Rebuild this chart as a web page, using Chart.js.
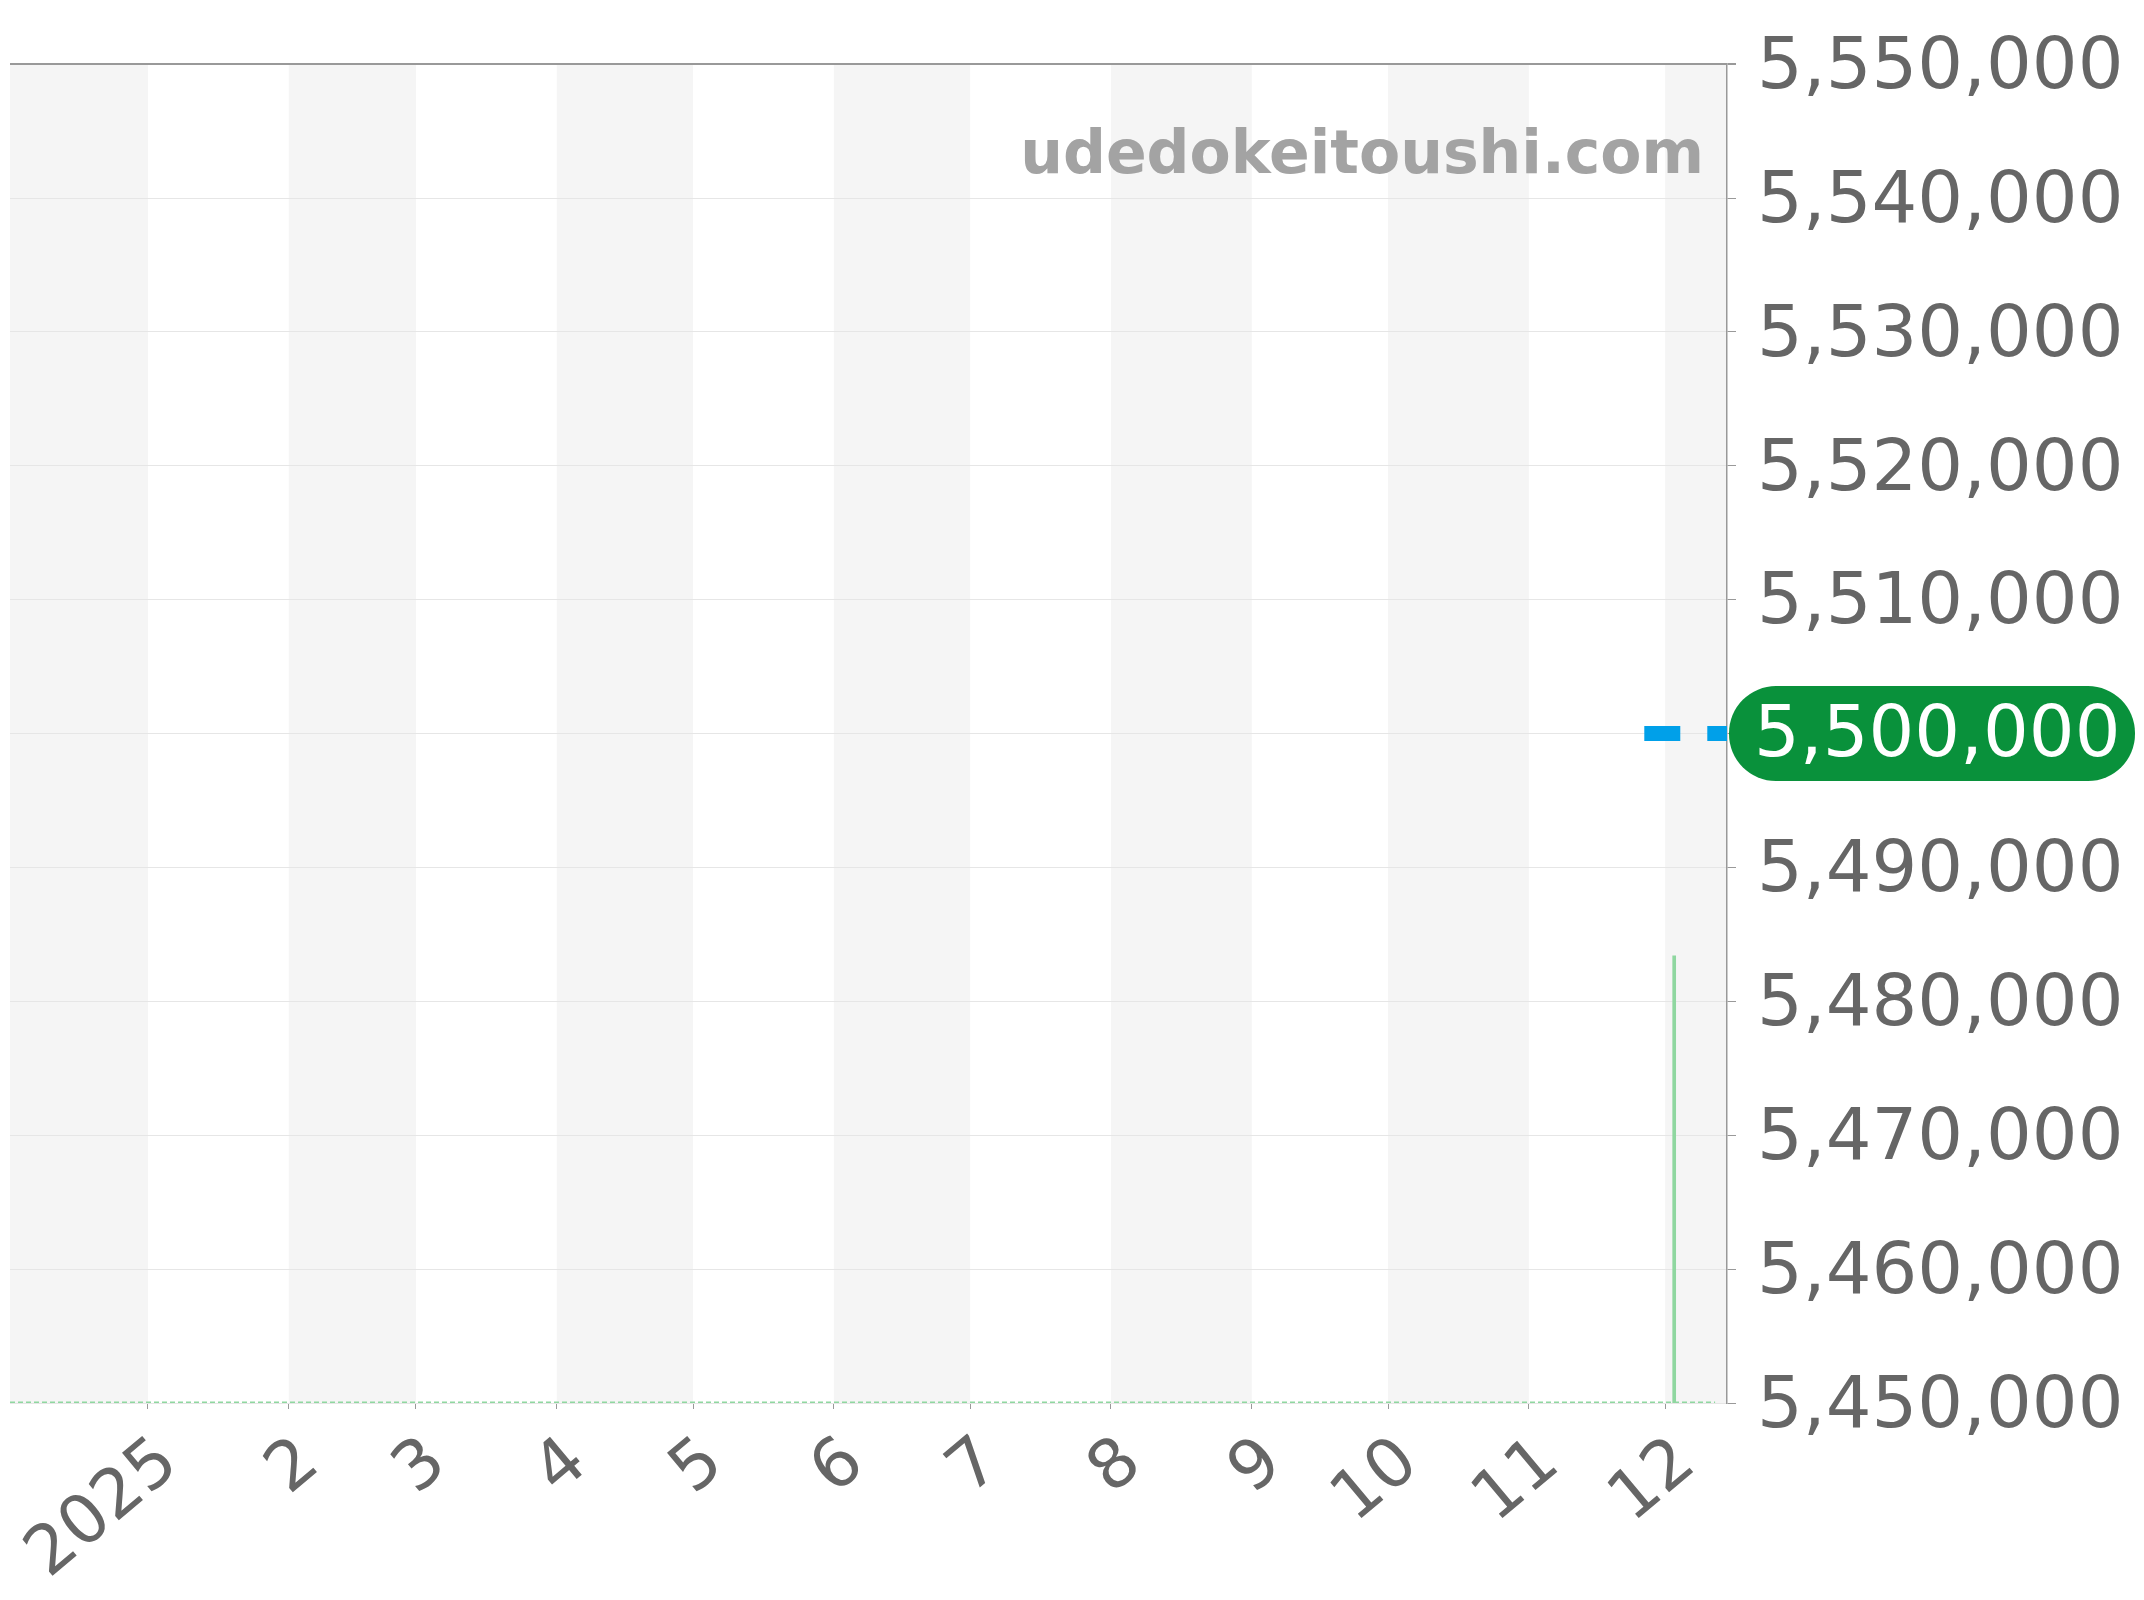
<!DOCTYPE html>
<html>
<head>
<meta charset="utf-8">
<script src="https://cdn.jsdelivr.net/npm/chart.js@4.4.1/dist/chart.umd.min.js"></script>
<style>
  html, body { margin: 0; padding: 0; background: #fff; }
  #wrap { width: 2144px; height: 1600px; position: relative; }
</style>
</head>
<body>
<div id="wrap"><canvas id="priceChart"></canvas></div>
<script>
// data
const tickMonths = ['2025-01-01', '2025-02-01', '2025-03-01', '2025-04-01', '2025-05-01', '2025-06-01',
                    '2025-07-01', '2025-08-01', '2025-09-01', '2025-10-01', '2025-11-01', '2025-12-01'];
const tickLabels = ['2025', '2', '3', '4', '5', '6', '7', '8', '9', '10', '11', '12'];
const xRange = ['2024-12-01T15:00', '2025-12-14T15:00'];
const yTicks = [5450000, 5460000, 5470000, 5480000, 5490000, 5500000, 5510000, 5520000, 5530000, 5540000, 5550000];
const priceDates = ['2025-12-03'];
const priceValues = [5483400];
const floorDates = ['2024-12-01T15:00', '2025-12-12'];
const floorValues = [5450000, 5450000];
const currentPriceFrom = '2025-11-26T10:00';
const currentPrice = 5500000;
const watermark = 'udedokeitoushi.com';

function t(s) {
    return Date.parse(s.length > 10 ? s + ':00Z' : s + 'T00:00:00Z');
}

const fmt = v => v.toLocaleString('en-US');

document.addEventListener('DOMContentLoaded', function () {
    const canvas = document.getElementById('priceChart');
    const xMin = t(xRange[0]);
    const xMax = t(xRange[1]);
    const yMin = yTicks[0];
    const yMax = yTicks[yTicks.length - 1];

    // alternating month bands + watermark + current price badge
    const decor = {
        id: 'decor',
        beforeDraw(chart) {
            const ctx = chart.ctx;
            const area = chart.chartArea;
            const x = chart.scales.x;
            const bounds = [xMin].concat(tickMonths.map(t), [xMax]);
            ctx.save();
            ctx.fillStyle = '#f5f5f5';
            for (let i = 0; i < bounds.length - 1; i += 2) {
                const a = x.getPixelForValue(bounds[i]);
                const b = x.getPixelForValue(bounds[i + 1]);
                ctx.fillRect(a, area.top, b - a, area.bottom - area.top);
            }
            ctx.font = 'bold 60px "DejaVu Sans"';
            ctx.fillStyle = '#a3a3a3';
            ctx.textAlign = 'right';
            ctx.textBaseline = 'alphabetic';
            ctx.fillText(watermark, area.right - 23, area.top + 109);
            ctx.restore();
        },
        afterDraw(chart) {
            const ctx = chart.ctx;
            const area = chart.chartArea;
            const y = chart.scales.y.getPixelForValue(currentPrice);
            const h = 95, r = 47;
            const left = area.right + 2, right = 2135;
            ctx.save();
            ctx.fillStyle = '#09913b';
            ctx.beginPath();
            ctx.roundRect(left, y - h / 2, right - left, h, r);
            ctx.fill();
            ctx.fillStyle = '#ffffff';
            ctx.font = '72px "DejaVu Sans"';
            ctx.textAlign = 'left';
            ctx.textBaseline = 'middle';
            ctx.fillText(fmt(currentPrice), area.right + 27, y + 4);
            ctx.restore();
        }
    };

    new Chart(canvas, {
        data: {
            datasets: [
                {
                    type: 'bar',
                    data: priceDates.map((d, i) => ({ x: t(d), y: priceValues[i] })),
                    backgroundColor: '#8fd7a0',
                    barThickness: 3,
                    order: 2
                },
                {
                    type: 'line',
                    data: floorDates.map((d, i) => ({ x: t(d), y: floorValues[i] })),
                    borderColor: '#8fd7a0',
                    borderWidth: 3,
                    borderDash: [5, 3],
                    pointRadius: 0,
                    order: 3
                },
                {
                    type: 'line',
                    data: [{ x: t(currentPriceFrom), y: currentPrice }, { x: xMax, y: currentPrice }],
                    borderColor: '#00a0e9',
                    borderWidth: 15,
                    borderDash: [36, 27],
                    borderCapStyle: 'butt',
                    pointRadius: 0,
                    order: 1
                }
            ]
        },
        options: {
            responsive: true,
            maintainAspectRatio: false,
            animation: false,
            layout: { padding: { top: 63, left: 10, right: 0, bottom: 0 } },
            plugins: {
                legend: { display: false },
                tooltip: { enabled: false }
            },
            scales: {
                x: {
                    type: 'linear',
                    offset: false,
                    min: xMin,
                    max: xMax,
                    afterBuildTicks: s => { s.ticks = tickMonths.map(m => ({ value: t(m) })); },
                    afterFit: s => { s.height = 197; s.paddingLeft = 0; s.paddingRight = 0; },
                    ticks: {
                        autoSkip: false,
                        minRotation: 40,
                        maxRotation: 40,
                        padding: 14,
                        labelOffset: 22,
                        color: '#666',
                        font: { family: 'DejaVu Sans', size: 68 },
                        callback: (v, i) => tickLabels[i]
                    },
                    grid: { offset: false, drawOnChartArea: false, tickLength: 6, color: '#999' },
                    border: { display: false }
                },
                y: {
                    position: 'right',
                    min: yMin,
                    max: yMax,
                    afterBuildTicks: s => { s.ticks = yTicks.map(v => ({ value: v })); },
                    afterFit: s => { s.width = 417; },
                    ticks: {
                        padding: 21,
                        labelOffset: 5,
                        color: '#666',
                        font: { family: 'DejaVu Sans', size: 72 },
                        callback: v => fmt(v)
                    },
                    grid: {
                        tickLength: 9,
                        color: c => c.tick && c.tick.value === yMax ? '#999' : '#e6e6e6',
                        lineWidth: c => c.tick && c.tick.value === yMax ? 2 : 1,
                        tickColor: '#999'
                    },
                    border: { color: '#999', width: 1.5 }
                }
            }
        },
        plugins: [decor]
    });
});
</script>
</body>
</html>
